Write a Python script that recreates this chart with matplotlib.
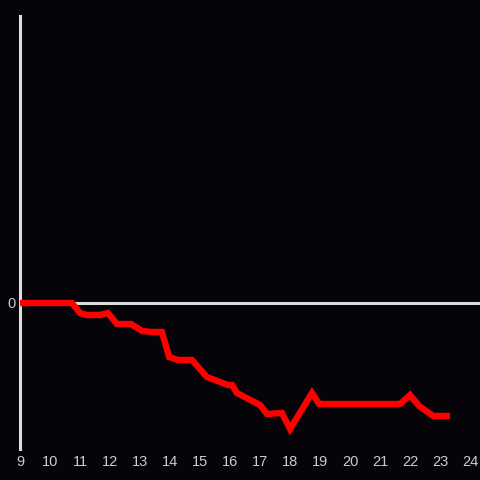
import numpy as np
import matplotlib.pyplot as plt

# data
x = [9.0, 10.73, 11.0, 11.23, 11.67, 11.93, 12.23, 12.7, 13.07, 13.4, 13.73,
     13.97, 14.27, 14.73, 15.23, 15.93, 16.07, 16.23, 17.0, 17.23, 17.73,
     18.0, 18.73, 18.97, 21.67, 22.0, 22.3, 22.77, 23.33]
y = [0, 0, -1.0, -1.2, -1.2, -1.0, -2.1, -2.1, -2.8, -2.9, -2.9,
     -5.4, -5.7, -5.7, -7.4, -8.2, -8.2, -9.0, -10.2, -11.1, -11.0,
     -12.6, -9.0, -10.1, -10.1, -9.2, -10.3, -11.3, -11.3]
xticks = list(range(9, 25))

bg = '#060408'
fg = '#dddddd'

fig = plt.figure(figsize=(4.8, 4.8), dpi=100, facecolor=bg)
ax = fig.add_axes([20/480, 1 - 449/480, 1 - 20/480, (449 - 16)/480])
ax.set_facecolor(bg)

ax.axhline(0, color=fg, lw=2.2, zorder=2)
ax.plot(x, y, color='#ff0000', lw=4.6, solid_joinstyle='miter', solid_capstyle='butt',
        zorder=5, clip_on=False)

ax.set_xlim(9, 24.33)
ax.set_ylim(-14.6, 28.7)
ax.set_xticks(xticks)
ax.set_yticks([0])

for s in ['top', 'right', 'bottom']:
    ax.spines[s].set_visible(False)
ax.spines['left'].set_color(fg)
ax.spines['left'].set_linewidth(2.2)

ax.tick_params(length=0, colors=fg, labelsize=10.5, pad=4)
for label in ax.get_xticklabels() + ax.get_yticklabels():
    label.set_fontfamily('Liberation Sans')
    label.set_color('#cccccc')
ax.tick_params(axis='y', pad=3)

plt.savefig('out.png', dpi=100, facecolor=bg)
plt.close()
